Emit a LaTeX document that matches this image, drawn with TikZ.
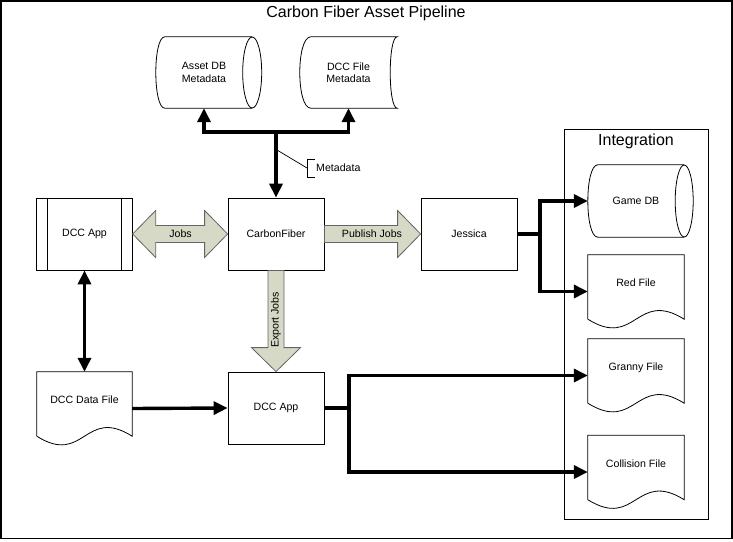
\documentclass[tikz,border=0pt]{standalone}
\usepackage{fontspec}
\setmainfont{Liberation Sans}
\usetikzlibrary{arrows.meta,calc}
\definecolor{blockfill}{RGB}{214,217,197}
\definecolor{blockline}{RGB}{100,100,100}
\newcommand\docoutline[1]{%
  \draw[outline] ($(#1.south west)+(0,-9)$) -- (#1.north west) -- (#1.north east) -- ($(#1.south east)+(0,-9)$)
    .. controls ($(#1.south)+(0,-39)$) and ($(#1.south)+(0,21)$) .. ($(#1.south west)+(0,-9)$);}
\begin{document}
\begin{tikzpicture}[x=1pt,y=-1pt,
  every node/.style={font=\fontsize{10.6}{12.2}\selectfont, inner sep=0pt},
  outline/.style={draw=black, line width=0.8pt},
  procbox/.style={outline, minimum width=96pt, minimum height=72pt},
  shapebox/.style={minimum width=#1, minimum height=71pt},
  docbox/.style={minimum width=96pt, minimum height=73pt, text depth=17pt, text height=7.7pt},
  fatline/.style={line width=3.4pt},
  conn/.style={fatline, -{Triangle[length=14pt,width=13pt]}},
  bothconn/.style={fatline, {Triangle[length=14pt,width=13pt]}-{Triangle[length=14pt,width=13pt]}},
  thinline/.style={line width=0.7pt},
  blockarrow/.style={fill=blockfill, draw=blockline, line width=0.8pt, line join=miter},
  bigtext/.style={font=\fontsize{16}{19}\selectfont}]
\useasboundingbox (0,0) rectangle (733,541);
\draw[line width=1.5pt] (1,0.8) rectangle (731.8,538.5);

\node[bigtext] (title) at (366,13) {Carbon Fiber Asset Pipeline};

% top data stores
\node[shapebox=96pt, align=center] (assetdb) at (204,72.5) {Asset DB\\Metadata};
\draw[outline] ($(assetdb.north east)$) -- ($(assetdb.north west)+(9,0)$)
  .. controls ($(assetdb.north west)+(-3,0)$) and ($(assetdb.south west)+(-3,0)$) .. ($(assetdb.south west)+(9,0)$)
  -- (assetdb.south east);
\draw[outline] (assetdb.east) ellipse [x radius=9.5, y radius=35.5];

\node[shapebox=97pt, align=center] (dccmeta) at (348.5,72.5) {DCC File\\Metadata};
\draw[outline] ($(dccmeta.north west)+(11,0)$) -- (dccmeta.north east)
  .. controls ($(dccmeta.north east)+(-9.3,0)$) and ($(dccmeta.south east)+(-9.3,0)$) .. (dccmeta.south east)
  -- ($(dccmeta.south west)+(11,0)$)
  .. controls ($(dccmeta.south west)+(-3.7,0)$) and ($(dccmeta.north west)+(-3.7,0)$) .. cycle;

% middle row
\node[procbox, minimum width=95.5pt] (dccapp1) at (84.5,234) {DCC App};
\draw[outline] ($(dccapp1.north west)+(11,0)$) -- ($(dccapp1.south west)+(11,0)$);
\draw[outline] ($(dccapp1.north east)+(-11,0)$) -- ($(dccapp1.south east)+(-11,0)$);
\node[procbox] (carbon) at (276,234) {CarbonFiber};
\node[procbox] (jessica) at (469,234) {Jessica};

% bottom row
\node[docbox, minimum width=95pt] (dfile) at (84.5,408.5) {DCC Data File};
\docoutline{dfile}
\node[procbox] (dccapp2) at (276,408) {DCC App};

% integration
\node[outline, minimum width=144pt, minimum height=390pt] (intbox) at (636,324) {};
\node[bigtext] (intlbl) at (636,141) {Integration};
\node[shapebox=96pt, minimum height=72pt] (gamedb) at (636,201) {Game DB};
\draw[outline] (gamedb.north east) -- ($(gamedb.north west)+(10,0)$)
  .. controls ($(gamedb.north west)+(-3.3,0)$) and ($(gamedb.south west)+(-3.3,0)$) .. ($(gamedb.south west)+(10,0)$)
  -- (gamedb.south east);
\draw[outline] (gamedb.east) ellipse [x radius=9, y radius=36];
\node[docbox] (redfile) at (636,291.5) {Red File};
\docoutline{redfile}
\node[docbox] (granny) at (636,375.5) {Granny File};
\docoutline{granny}
\node[docbox] (collision) at (636,472) {Collision File};
\docoutline{collision}

% metadata connectors
\coordinate (j1) at (276,132);
\draw[bothconn] (assetdb.south) |- (j1) -| (dccmeta.south);
\draw[conn] (j1) -- (carbon.north);
\coordinate (mpt) at (277,150);
\node[anchor=west] (metalbl) at (316,168) {Metadata};
\draw[thinline] (mpt) -- ($(metalbl.west)+(-9,0)$);
\draw[thinline] ($(metalbl.west)+(-1,-9)$) -- ($(metalbl.west)+(-9,-9)$) -- ($(metalbl.west)+(-9,9)$) -- ($(metalbl.west)+(-1,9)$);

% Jessica connectors
\coordinate (j2) at (540,234);
\draw[fatline] (jessica.east) -- (j2);
\draw[bothconn] (gamedb.west) -| (j2) |- (redfile.west);

% DCC app connectors
\coordinate (j3) at (349,408);
\draw[fatline] (dccapp2.east) -- (j3);
\draw[bothconn] (granny.west) -| (j3) |- (collision.west);
\draw[bothconn] (dccapp1.south) -- (dfile.north);
\draw[conn] (dfile.east) -- (dccapp2.west);

% block arrows
\path[blockarrow] (dccapp1.east) -- ++(23,-23.5) -- ++(0,15) -- ($(carbon.west)+(-23,-8.5)$) -- ++(0,-15)
  -- (carbon.west) -- ++(-23,23.5) -- ++(0,-15) -- ($(dccapp1.east)+(23,8.5)$) -- ++(0,15) -- cycle;
\path[blockarrow] ($(carbon.east)+(0,-8.5)$) -- ($(jessica.west)+(-23,-8.5)$) -- ++(0,-15) -- (jessica.west)
  -- ++(-23,23.5) -- ++(0,-15) -- ($(carbon.east)+(0,8.5)$) -- cycle;
\path[blockarrow] ($(carbon.south)+(-8,0)$) -- ($(dccapp2.north)+(-8,-24)$) -- ++(-16.5,0) -- (dccapp2.north)
  -- ++(24.5,-24) -- ++(-16.5,0) -- ($(carbon.south)+(8,0)$) -- cycle;
\node (jobslbl) at (180.5,234) {Jobs};
\node (publbl) at (372,234) {Publish Jobs};
\node[rotate=90] (explbl) at (276,320) {Export Jobs};
\end{tikzpicture}
\end{document}
